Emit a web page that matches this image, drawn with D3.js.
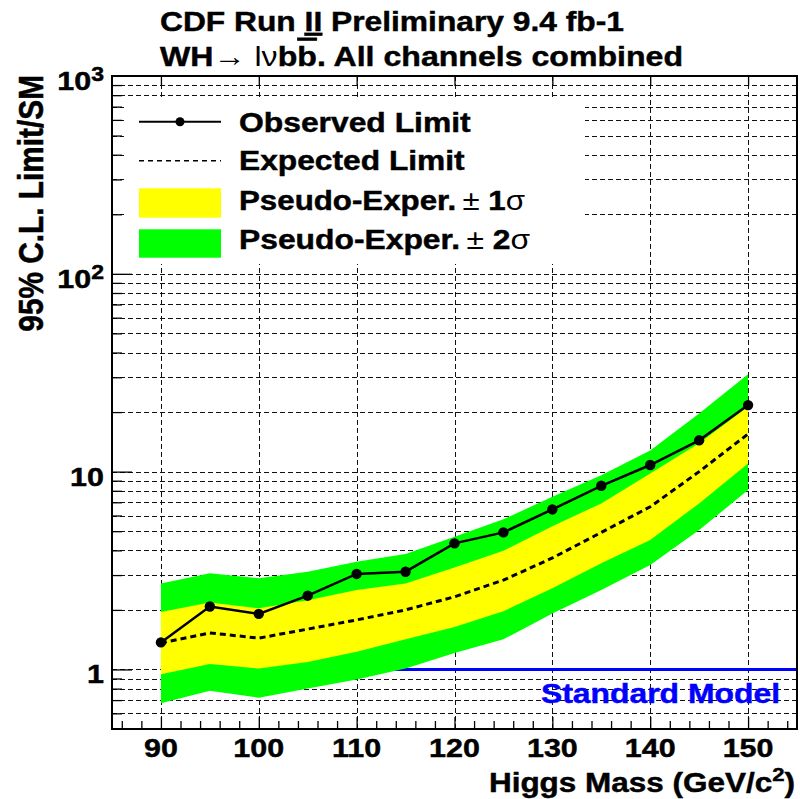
<!DOCTYPE html>
<html>
<head>
<meta charset="utf-8">
<script src="https://cdn.jsdelivr.net/npm/d3@7"></script>
<style>
  body { margin: 0; background: #fff; }
  svg { display: block; }
  text { font-family: "Liberation Sans", Arial, Helvetica, sans-serif; font-weight: bold; fill: #000; stroke: #000; stroke-width: 0.45px; }
  tspan.thin { font-weight: normal; stroke-width: 0; }
</style>
</head>
<body>
<svg id="chart" width="800" height="799"></svg>
<script>
// Higgs mass points (GeV/c^2)
const massPoints = [90, 95, 100, 105, 110, 115, 120, 125, 130, 135, 140, 145, 150];
// 95% C.L. limits on cross section / SM
const observedLimit = [1.37, 2.08, 1.91, 2.36, 3.04, 3.12, 4.34, 4.93, 6.44, 8.48, 10.8, 14.4, 21.7];
const expectedLimit = [1.36, 1.53, 1.44, 1.60, 1.78, 2.00, 2.33, 2.83, 3.66, 4.93, 6.64, 10.0, 15.5];
const oneSigmaLow  = [0.946, 1.066, 1.01, 1.09, 1.23, 1.42, 1.64, 1.97, 2.57, 3.44, 4.51, 6.91, 11.0];
const oneSigmaHigh = [1.95, 2.18, 2.04, 2.24, 2.52, 2.72, 3.28, 3.98, 5.30, 6.91, 9.79, 13.9, 21.3];
const twoSigmaLow  = [0.675, 0.78, 0.72, 0.80, 0.89, 1.01, 1.21, 1.42, 1.92, 2.52, 3.37, 5.07, 8.07];
const twoSigmaHigh = [2.72, 3.06, 2.89, 3.12, 3.50, 3.83, 4.69, 5.74, 7.46, 9.60, 12.8, 19.7, 31.1];
const standardModelLevel = 1;

// Axis ticks and labels
const xMajorTicks = [90, 100, 110, 120, 130, 140, 150];
const xTickLabels = ["90", "100", "110", "120", "130", "140", "150"];
const yMajorTicks = [1, 10, 100, 1000];
const yTickBase = ["1", "10", "10", "10"];
const yTickExponent = ["", "", "2", "3"];

const legendLabels = ["Observed Limit", "Expected Limit", "Pseudo-Exper.", "Pseudo-Exper."];
const legendSigma = ["", "", "1", "2"];

const svg = d3.select("#chart");
const plot = { left: 112, right: 797, top: 76, bottom: 729 };
const STRETCH = 1.15; // horizontal scaling applied to the bold labels

const x = d3.scaleLinear().domain([85, 155]).range([plot.left, plot.right]);
const y = d3.scaleLog().domain([0.5, 1000]).range([plot.bottom, plot.top]);

// ---- dashed grid ----
const grid = svg.append("g").attr("stroke", "#111").attr("stroke-width", 1)
  .attr("stroke-dasharray", "5,3").attr("shape-rendering", "crispEdges");
const yGridValues = y.ticks().filter(v => v > 0.5 && v < 1000);
grid.selectAll("line.h").data(yGridValues).join("line")
  .attr("x1", plot.left).attr("x2", plot.right)
  .attr("y1", d => Math.round(y(d)) + 0.5).attr("y2", d => Math.round(y(d)) + 0.5);
grid.selectAll("line.v").data(xMajorTicks).join("line")
  .attr("y1", plot.top).attr("y2", plot.bottom)
  .attr("x1", d => Math.round(x(d)) + 0.5).attr("x2", d => Math.round(x(d)) + 0.5);

// ---- Standard Model reference line ----
svg.append("line")
  .attr("x1", x(90)).attr("x2", plot.right)
  .attr("y1", y(standardModelLevel)).attr("y2", y(standardModelLevel))
  .attr("stroke", "#0000ff").attr("stroke-width", 3);

// ---- expectation bands ----
const rows = massPoints.map((m, i) => ({
  m, obs: observedLimit[i], exp: expectedLimit[i],
  lo1: oneSigmaLow[i], hi1: oneSigmaHigh[i], lo2: twoSigmaLow[i], hi2: twoSigmaHigh[i]
}));
svg.append("path").datum(rows)
  .attr("fill", "#00ff00")
  .attr("d", d3.area().x(d => x(d.m)).y0(d => y(d.lo2)).y1(d => y(d.hi2)));
svg.append("path").datum(rows)
  .attr("fill", "#ffff00")
  .attr("d", d3.area().x(d => x(d.m)).y0(d => y(d.lo1)).y1(d => y(d.hi1)));

// expected limit
svg.append("path").datum(rows)
  .attr("fill", "none").attr("stroke", "#000").attr("stroke-width", 3)
  .attr("stroke-dasharray", "6,4")
  .attr("d", d3.line().x(d => x(d.m)).y(d => y(d.exp)));

// observed limit
svg.append("path").datum(rows)
  .attr("fill", "none").attr("stroke", "#000").attr("stroke-width", 2.5)
  .attr("d", d3.line().x(d => x(d.m)).y(d => y(d.obs)));
svg.selectAll("circle.obs").data(rows).join("circle")
  .attr("class", "obs")
  .attr("cx", d => x(d.m)).attr("cy", d => y(d.obs)).attr("r", 5.2).attr("fill", "#000");

// ---- legend ----
const legend = svg.append("g");
legend.append("rect").attr("x", 124).attr("y", 98).attr("width", 461).attr("height", 166).attr("fill", "#fff");
legend.append("line").attr("x1", 139).attr("x2", 221).attr("y1", 121.7).attr("y2", 121.7)
  .attr("stroke", "#000").attr("stroke-width", 2);
legend.append("circle").attr("cx", 180).attr("cy", 121.7).attr("r", 4.5).attr("fill", "#000");
legend.append("line").attr("x1", 139).attr("x2", 221).attr("y1", 160.7).attr("y2", 160.7)
  .attr("stroke", "#000").attr("stroke-width", 1.5).attr("stroke-dasharray", "5,4");
legend.append("rect").attr("x", 139).attr("y", 188.3).attr("width", 82).attr("height", 29.4).attr("fill", "#ffff00");
legend.append("rect").attr("x", 139).attr("y", 229.3).attr("width", 82).attr("height", 28.4).attr("fill", "#00ff00");

function stretchedText(parent, tx, ty, sx, anchor, size) {
  const g = parent.append("g").attr("transform", `translate(${tx},${ty}) scale(${sx},1)`);
  return g.append("text").attr("text-anchor", anchor).attr("font-size", size);
}
function fitWidth(textSel, target) {
  const g = d3.select(textSel.node().parentNode);
  const w = textSel.node().getBBox().width;
  const t = g.attr("transform").replace(/scale\([^)]*\)/, `scale(${target / w},1)`);
  g.attr("transform", t);
}

const legendBaselines = [131.7, 170, 210, 249];
const legendWidths = [232, 226, 286, 291];
legendLabels.forEach((lab, i) => {
  const t = stretchedText(legend, 239, legendBaselines[i], STRETCH, "start", 27);
  t.append("tspan").text(lab);
  if (legendSigma[i]) {
    t.append("tspan").attr("class", "thin").text("\u2009\u00b1 ");
    t.append("tspan").text(legendSigma[i]);
    t.append("tspan").attr("class", "thin").text("\u03c3");
  }
  fitWidth(t, legendWidths[i]);
});

// ---- axes ----
const axes = svg.append("g");
function tickAxis(axis, transform) {
  const g = axes.append("g").attr("transform", transform).call(axis);
  g.select(".domain").remove();
  g.selectAll("text").remove();
  g.selectAll("line").attr("stroke", "#000").attr("stroke-width", 1.3);
  return g;
}
const xMinorTicks = d3.range(86, 155, 2).filter(v => v % 10 !== 0);
tickAxis(d3.axisBottom(x).tickValues(xMajorTicks).tickSizeInner(-12).tickSizeOuter(0), `translate(0,${plot.bottom})`);
tickAxis(d3.axisBottom(x).tickValues(xMinorTicks).tickSizeInner(-8).tickSizeOuter(0), `translate(0,${plot.bottom})`);
tickAxis(d3.axisTop(x).tickValues(xMajorTicks).tickSizeInner(-10).tickSizeOuter(0), `translate(0,${plot.top})`);
tickAxis(d3.axisLeft(y).tickValues(yGridValues.filter(v => !yMajorTicks.includes(v))).tickSizeInner(-10).tickSizeOuter(0), `translate(${plot.left},0)`);
tickAxis(d3.axisLeft(y).tickValues(yMajorTicks.slice(0, 3)).tickSizeInner(-20).tickSizeOuter(0), `translate(${plot.left},0)`);

// frame
svg.append("rect")
  .attr("x", plot.left).attr("y", plot.top)
  .attr("width", plot.right - plot.left).attr("height", plot.bottom - plot.top)
  .attr("fill", "none").attr("stroke", "#000").attr("stroke-width", 2);

// x tick labels
xMajorTicks.forEach((v, i) => {
  stretchedText(svg, x(v), 757, STRETCH, "middle", 26.5).text(xTickLabels[i]);
});
// y tick labels
yMajorTicks.forEach((v, i) => {
  const t = stretchedText(svg, 104, y(v) + 14, STRETCH, "end", 26.5);
  t.append("tspan").text(yTickBase[i]);
  if (yTickExponent[i]) {
    t.append("tspan").attr("font-size", 20).attr("dy", -9).text(yTickExponent[i]);
  }
});

// axis titles
const xTitle = stretchedText(svg, 795, 792, STRETCH, "end", 27);
xTitle.append("tspan").text("Higgs Mass (GeV/c");
xTitle.append("tspan").attr("font-size", 19).attr("dy", -11).text("2");
xTitle.append("tspan").attr("dy", 11).text(")");
fitWidth(xTitle, 306);

const yTitleG = svg.append("g").attr("transform", `translate(43,75) scale(${STRETCH},1) rotate(-90)`);
yTitleG.append("text").attr("text-anchor", "end").attr("font-size", 29.8).text("95% C.L. Limit/SM");

// Standard Model label
const smText = stretchedText(svg, 780, 703, STRETCH, "end", 28)
  .style("fill", "#0000ff").style("stroke", "#0000ff").text("Standard Model");
fitWidth(smText, 239);

// title
const t1 = stretchedText(svg, 160, 31, STRETCH, "start", 28.5);
t1.append("tspan").text("CDF Run ");
t1.append("tspan").attr("text-decoration", "underline").text("II");
t1.append("tspan").text(" Preliminary 9.4 fb-1");
fitWidth(t1, 464);

const t2 = stretchedText(svg, 160, 66, STRETCH, "start", 28.5);
t2.append("tspan").text("WH");
t2.append("tspan").attr("class", "thin").text("\u2192 ");
t2.append("tspan").attr("class", "thin").text("l\u03bd");
t2.append("tspan").text("b");
t2.append("tspan").attr("text-decoration", "overline").text("b");
t2.append("tspan").text(". All channels combined");
fitWidth(t2, 523);
</script>
</body>
</html>
